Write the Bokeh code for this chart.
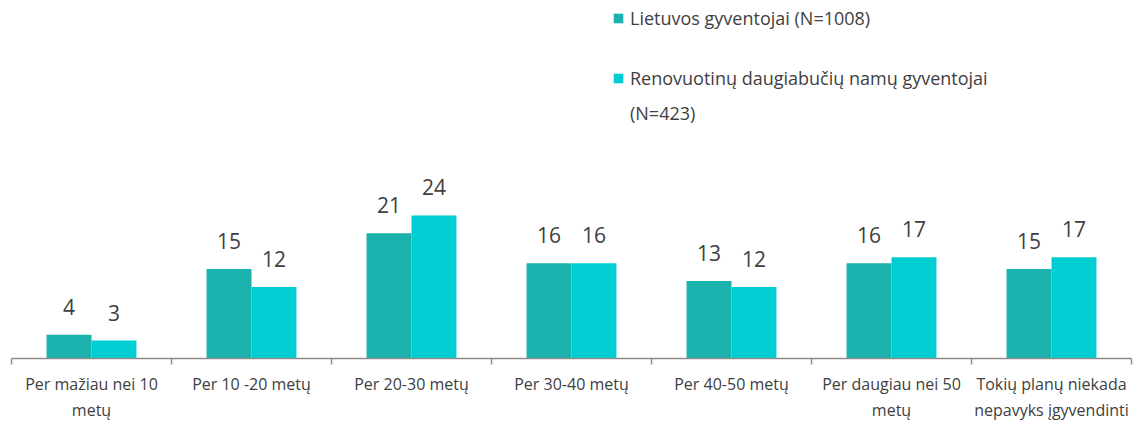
from bokeh.plotting import figure
from bokeh.models import (Range1d, FixedTicker, Legend, LegendItem, LabelSet,
                          ColumnDataSource)
from bokeh.core.properties import value
from bokeh.embed import file_html
from bokeh.resources import INLINE

categories = ["Per mažiau nei 10\nmetų", "Per 10 -20 metų", "Per 20-30 metų",
              "Per 30-40 metų", "Per 40-50 metų", "Per daugiau nei 50\nmetų",
              "Tokių planų niekada\nnepavyks įgyvendinti"]
lietuvos = [4, 15, 21, 16, 13, 16, 15]
renovuotinu = [3, 12, 24, 16, 12, 17, 17]
series_names = ["Lietuvos gyventojai (N=1008)",
                "Renovuotinų daugiabučių namų gyventojai", "(N=423)"]

FONT = "Open Sans"
TXT = "#404040"
C1 = "#1bb1ad"
C2 = "#00ced2"
AX = "#8c8c8c"

n = len(categories)
centers = [i + 0.5 for i in range(n)]
bw = 0.281
src = ColumnDataSource(dict(
    x1=[c - bw / 2 for c in centers], x2=[c + bw / 2 for c in centers],
    v1=lietuvos, v2=renovuotinu,
    t1=[str(v) for v in lietuvos], t2=[str(v) for v in renovuotinu]))

p = figure(width=1138, height=423, output_backend="svg", toolbar_location=None,
           x_range=Range1d(0, n), y_range=Range1d(0, 60.07),
           min_border_left=11, min_border_right=7, min_border_top=0,
           min_border_bottom=65, y_axis_location=None)
p.outline_line_color = None
p.grid.visible = False
p.background_fill_color = "white"

r1 = p.vbar(x="x1", top="v1", width=bw, source=src, fill_color=C1, line_color=None)
r2 = p.vbar(x="x2", top="v2", width=bw, source=src, fill_color=C2, line_color=None)
r3 = p.vbar(x=[], top=[], width=bw, fill_alpha=0, line_alpha=0)

for xs, ys, ts in (("x1", "v1", "t1"), ("x2", "v2", "t2")):
    p.add_layout(LabelSet(x=xs, y=ys, text=ts, source=src, y_offset=20,
                          text_align="center", text_baseline="alphabetic",
                          text_font=value(FONT), text_font_size="21px",
                          text_color=TXT))

ax = p.xaxis[0]
ax.ticker = FixedTicker(ticks=centers, minor_ticks=list(range(n + 1)))
ax.major_label_overrides = {c: lab for c, lab in zip(centers, categories)}
ax.major_label_standoff = 8
ax.major_label_text_font = FONT
ax.major_label_text_font_size = "16px"
ax.major_label_text_color = TXT
ax.major_label_text_line_height = 1.2
ax.major_tick_in = 0
ax.major_tick_out = 0
ax.minor_tick_in = 0
ax.minor_tick_out = 6
ax.minor_tick_line_color = AX
ax.minor_tick_line_width = 1.5
ax.axis_line_color = AX
ax.axis_line_width = 1.5

common = dict(padding=0, margin=0, spacing=10, border_line_color=None,
              background_fill_alpha=0, glyph_width=12, glyph_height=12,
              label_standoff=6, label_height=25, label_text_font=FONT,
              label_text_font_size="18px", label_text_color=TXT)
leg1 = Legend(items=[LegendItem(label=series_names[0], renderers=[r1])],
              location=(601, 328), **common)
leg2 = Legend(items=[LegendItem(label=series_names[1], renderers=[r2]),
                     LegendItem(label=series_names[2], renderers=[r3])],
              location=(601, 233), **common)
p.add_layout(leg1)
p.add_layout(leg2)

open("out.html", "w").write(file_html(p, INLINE))
